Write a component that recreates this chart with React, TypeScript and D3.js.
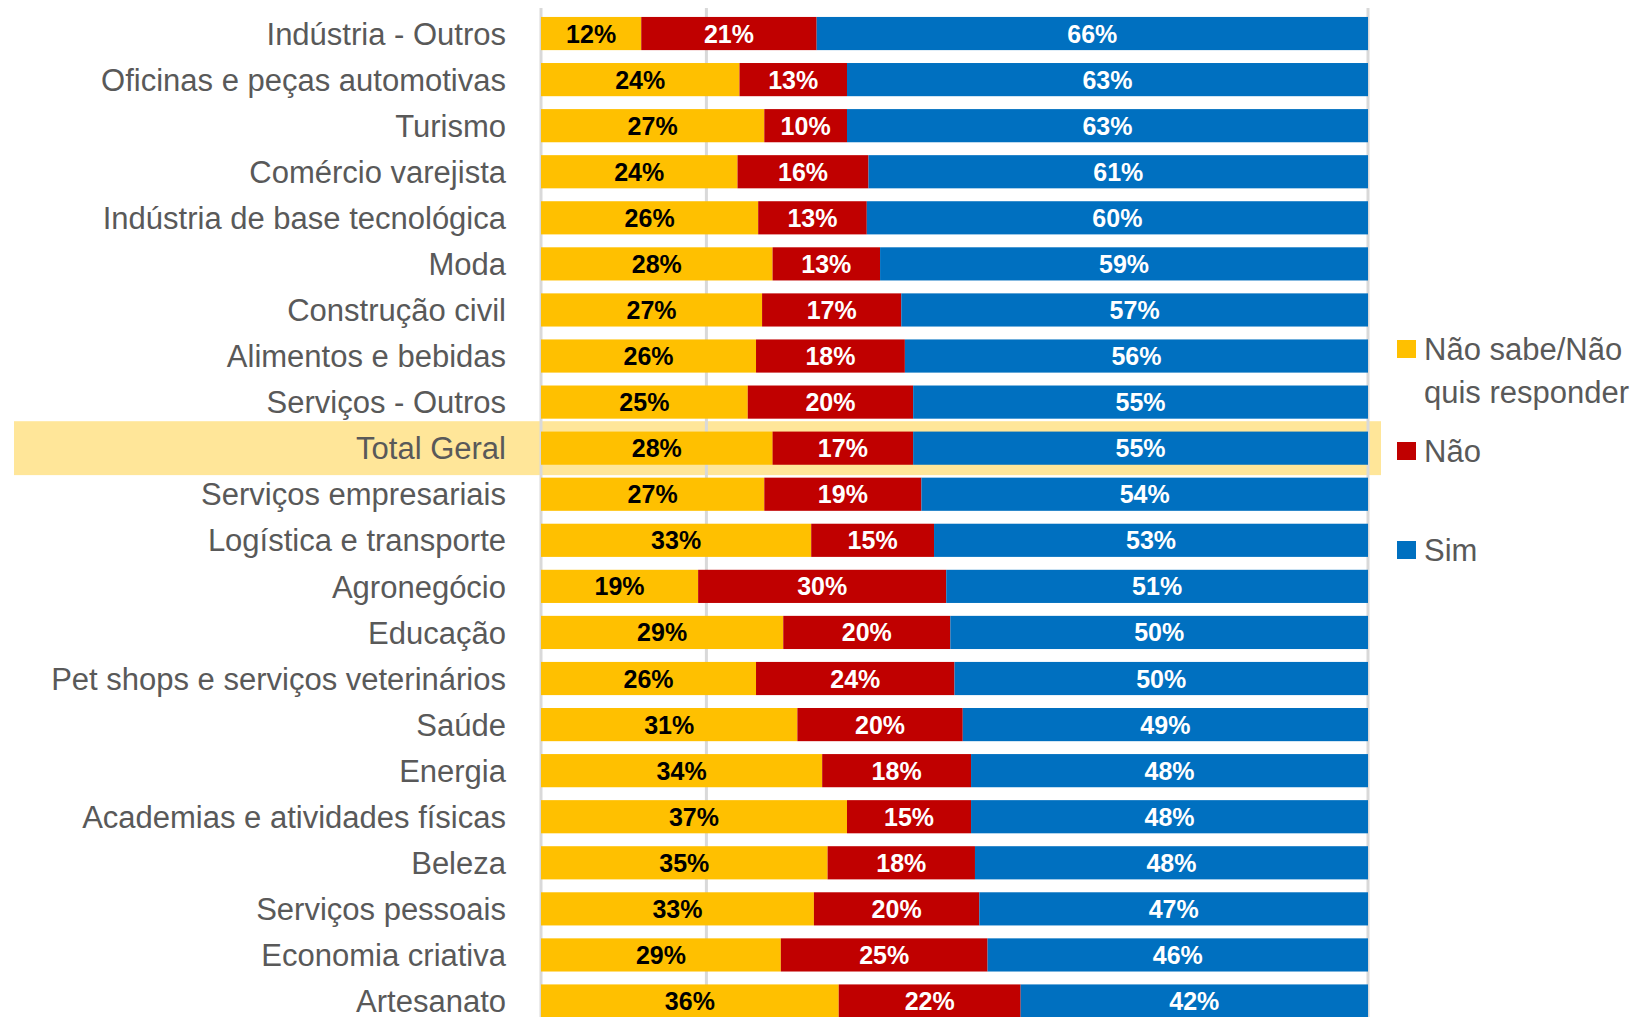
import * as d3 from "d3";

// values (percent, per row)
const categories = [
  "Indústria - Outros",
  "Oficinas e peças automotivas",
  "Turismo",
  "Comércio varejista",
  "Indústria de base tecnológica",
  "Moda",
  "Construção civil",
  "Alimentos e bebidas",
  "Serviços - Outros",
  "Total Geral",
  "Serviços empresariais",
  "Logística e transporte",
  "Agronegócio",
  "Educação",
  "Pet shops e serviços veterinários",
  "Saúde",
  "Energia",
  "Academias e atividades físicas",
  "Beleza",
  "Serviços pessoais",
  "Economia criativa",
  "Artesanato",
];
const naoSabe = [12, 24, 27, 24, 26, 28, 27, 26, 25, 28, 27, 33, 19, 29, 26, 31, 34, 37, 35, 33, 29, 36];
const nao = [21, 13, 10, 16, 13, 13, 17, 18, 20, 17, 19, 15, 30, 20, 24, 20, 18, 15, 18, 20, 25, 22];
const sim = [66, 63, 63, 61, 60, 59, 57, 56, 55, 55, 54, 53, 51, 50, 50, 49, 48, 48, 48, 47, 46, 42];

const seriesKeys = ["naoSabe", "nao", "sim"];
const seriesColors = ["#FFC000", "#C00000", "#0070C0"];
const labelColors = ["#000000", "#ffffff", "#ffffff"];
const legendLines = [["Não sabe/Não", "quis responder"], ["Não"], ["Sim"]];
const gridTicks = [0, 0.2, 1];
const highlighted = "Total Geral";

const W = 1639;
const H = 1017;
const FONT = "'Liberation Sans', Arial, sans-serif";

export default function App() {
  const rows = categories.map((c, i) => ({ cat: c, naoSabe: naoSabe[i], nao: nao[i], sim: sim[i] }));
  const stacked = d3.stack<any>().keys(seriesKeys).offset(d3.stackOffsetExpand)(rows);

  const x = d3.scaleLinear().domain([0, 1]).range([541, 1368]);
  const y = d3
    .scaleBand<string>()
    .domain(categories)
    .range([10.5, 10.5 + categories.length * 46.07])
    .paddingInner(0.28)
    .paddingOuter(0.14);
  const bw = y.bandwidth();
  const step = y.step();
  const hy = (y(highlighted) as number) + bw / 2;

  return (
    <svg
      width={W}
      height={H}
      style={{ position: "absolute", left: 0, top: 0, display: "block", background: "#fff" }}
    >
      {/* highlight row */}
      <rect x={14} y={hy - step * 0.585} width={1381 - 14} height={step * 1.17} fill="#FFE699" />

      {/* grid */}
      {gridTicks.map((t) => (
        <line key={t} x1={x(t)} x2={x(t)} y1={8} y2={H} stroke="#D9D9D9" strokeWidth={3} />
      ))}

      {/* bars */}
      {stacked.map((s, si) => (
        <g key={s.key}>
          {s.map((d, i) => (
            <rect
              key={i}
              x={x(d[0])}
              y={y(categories[i])}
              width={x(d[1]) - x(d[0])}
              height={bw}
              fill={seriesColors[si]}
            />
          ))}
        </g>
      ))}

      {/* value labels */}
      {stacked.map((s, si) => (
        <g key={"l" + s.key}>
          {s.map((d, i) => (
            <text
              key={i}
              x={(x(d[0]) + x(d[1])) / 2}
              y={(y(categories[i]) as number) + bw / 2}
              dy="0.36em"
              textAnchor="middle"
              fontFamily={FONT}
              fontWeight="bold"
              fontSize={25}
              fill={labelColors[si]}
            >
              {(rows[i] as any)[s.key]}%
            </text>
          ))}
        </g>
      ))}

      {/* category labels */}
      {categories.map((c) => (
        <text
          key={c}
          x={506}
          y={(y(c) as number) + bw / 2}
          dy="0.36em"
          textAnchor="end"
          fontFamily={FONT}
          fontSize={31}
          fill="#595959"
        >
          {c}
        </text>
      ))}

      {/* legend */}
      {legendLines.map((lines, i) => {
        const cy = [349, 451, 550][i];
        return (
          <g key={i}>
            <rect x={1397} y={cy - 9} width={19} height={18} fill={seriesColors[i]} />
            {lines.map((t, j) => (
              <text
                key={j}
                x={1424}
                y={cy + j * 43}
                dy="0.36em"
                fontFamily={FONT}
                fontSize={31}
                fill="#595959"
              >
                {t}
              </text>
            ))}
          </g>
        );
      })}
    </svg>
  );
}
